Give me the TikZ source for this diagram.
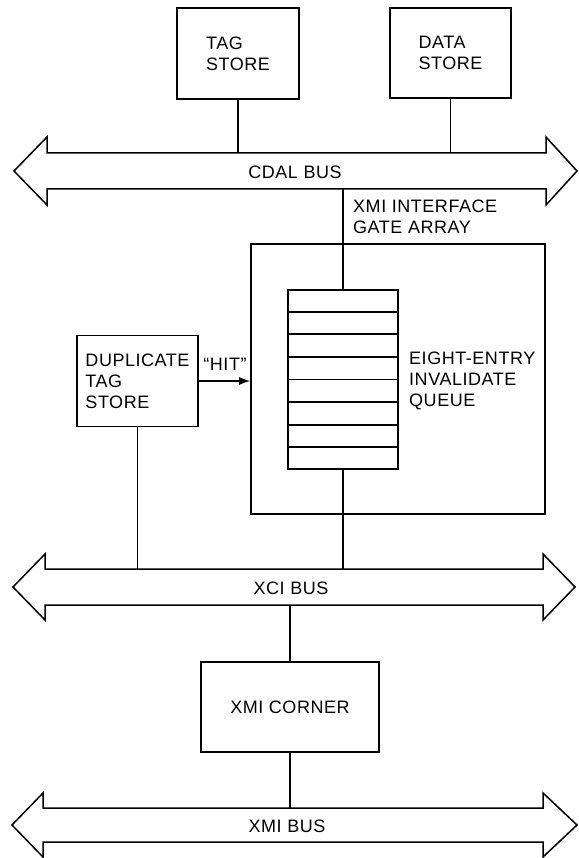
\documentclass[tikz,border=0pt]{standalone}
\usepackage{fontspec}
\setmainfont[LetterSpace=3]{Liberation Sans}
\usetikzlibrary{calc,arrows.meta}
\begin{document}
\begin{tikzpicture}[x=1pt,y=-1pt,
  box/.style={draw, line width=1.7pt, inner sep=0pt},
  txt/.style={font=\fontsize{18}{21}\selectfont, align=left, inner sep=0pt},
  wire/.style={line width=1.2pt},
  busline/.style={line width=1.5pt, line join=miter}]
\useasboundingbox (0,0) rectangle (578,858);

% top boxes
\node[box, txt, minimum width=122pt, minimum height=91pt] (tag) at (238,53.5) {TAG\\STORE};
\node[box, txt, minimum width=121pt, minimum height=90pt] (data) at (450.5,53) {DATA\\STORE};

% CDAL bus
\draw[busline] (47,153) -- (546,153) -- (546,137) -- (577,171) -- (546,205) -- (546,189)
  -- (47,189) -- (47,205) -- (14,171) -- (47,137) -- cycle;
\coordinate (cdalT) at (295,153);
\coordinate (cdalB) at (295,189);
\node[txt] (cdal) at (295,172) {CDAL BUS};
\draw[wire] (tag.south) -- (tag.south |- cdalT);
\draw[wire] (data.south) -- (data.south |- cdalT);

% gate array
\node[txt, anchor=west] (xmiif) at (353,216.5) {XMI INTERFACE\\GATE ARRAY};
\node[box, minimum width=294pt, minimum height=270pt] (gate) at (398,379) {};
\node[box, minimum width=110pt, minimum height=179pt] (queue) at (343,379.5) {};
\foreach \i in {1,...,7}{
  \draw[line width=1.7pt] ($(queue.north west)!\i/8!(queue.south west)$) -- ($(queue.north east)!\i/8!(queue.south east)$);
}
\draw[wire] (queue.north) -- (queue.north |- cdalB);
\node[txt, anchor=west] (eight) at (409,380.5) {EIGHT-ENTRY\\INVALIDATE\\QUEUE};

% duplicate tag store
\node[box, txt, minimum width=121pt, minimum height=91pt] (dup) at (137.5,381) {DUPLICATE\\TAG\\STORE};
\draw[wire, -{Latex[length=11pt,width=8pt]}] (dup.east) -- (dup.east -| gate.west);
\node[txt] (hit) at (225,364) {“HIT”};

% XCI bus
\draw[busline] (45,569) -- (543,569) -- (543,554) -- (575,587) -- (543,620) -- (543,605)
  -- (45,605) -- (45,620) -- (13,587) -- (45,554) -- cycle;
\coordinate (xciT) at (291,569);
\coordinate (xciB) at (291,605);
\node[txt] (xci) at (291,588) {XCI BUS};
\draw[wire] (dup.south) -- (dup.south |- xciT);
\draw[wire] (queue.south) -- (queue.south |- xciT);

% XMI corner
\node[box, txt, minimum width=178pt, minimum height=90pt] (corner) at (290,707) {XMI CORNER};
\draw[wire] (corner.north) -- (corner.north |- xciB);

% XMI bus
\draw[busline] (43,808) -- (543,808) -- (543,793) -- (577,825) -- (543,857) -- (543,842)
  -- (43,842) -- (43,857) -- (12,825) -- (43,793) -- cycle;
\coordinate (xmiT) at (289,808);
\node[txt] (xmi) at (287,826) {XMI BUS};
\draw[wire] (corner.south) -- (corner.south |- xmiT);
\end{tikzpicture}
\end{document}
